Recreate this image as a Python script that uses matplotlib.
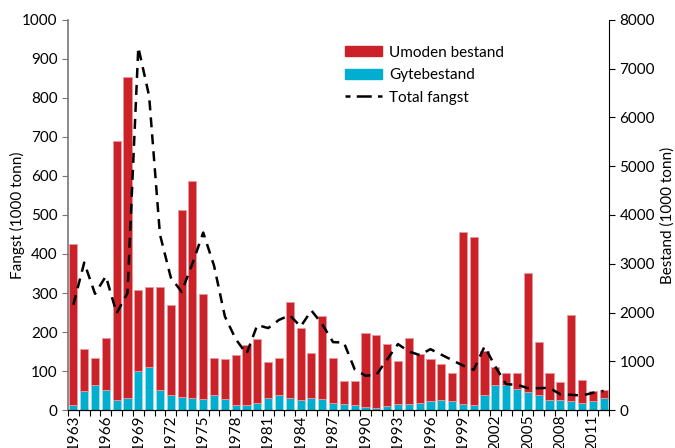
import numpy as np
import matplotlib
matplotlib.use("Agg")
import matplotlib.pyplot as plt
from matplotlib.patches import Patch
from matplotlib.lines import Line2D

plt.rcParams['font.family'] = ['Lato', 'DejaVu Sans']

years = list(range(1963, 2013))

# Bestand (1000 tonn), right axis
gytebestand = [110, 400, 510, 420, 200, 250, 800, 890, 420, 300,
               270, 250, 220, 300, 220, 100, 100, 150, 250, 300,
               250, 200, 250, 220, 150, 130, 100, 60, 40, 80,
               130, 130, 150, 180, 200, 180, 130, 100, 300, 510,
               510, 440, 370, 300, 200, 200, 180, 150, 180, 250]
umoden_bestand = [3300, 860, 560, 1060, 5320, 6590, 1660, 1640, 2110, 1850,
                  3830, 4450, 2150, 770, 830, 1020, 1230, 1300, 730, 770,
                  1970, 1490, 920, 1700, 920, 470, 500, 1510, 1500, 1270,
                  870, 1350, 990, 870, 750, 580, 3530, 3450, 910, 370,
                  250, 320, 2440, 1100, 560, 380, 1760, 470, 200, 170]

# Fangst (1000 tonn), left axis
total_fangst = [270, 378, 298, 343, 248, 300, 930, 805, 450, 340,
                303, 375, 455, 370, 240, 182, 144, 218, 210, 231,
                243, 214, 255, 220, 174, 173, 104, 88, 90, 130,
                169, 150, 141, 156, 142, 128, 114, 103, 163, 111,
                66, 65, 56, 56, 57, 40, 39, 37, 44, 49]

red = '#CB2229'
cyan = '#00AECF'

fig = plt.figure(figsize=(6.75, 4.48), dpi=100)
ax1 = fig.add_axes([0.1007, 0.0848, 0.8015, 0.8706])
ax2 = ax1.twinx()

x = np.arange(len(years))
ax2.bar(x, gytebestand, width=0.75, color=cyan, edgecolor='#9fdcea', linewidth=0.6)
ax2.bar(x, umoden_bestand, width=0.75, bottom=gytebestand, color=red,
        edgecolor='#e99a9e', linewidth=0.6)
ax1.plot(x, total_fangst, color='black', lw=1.8, linestyle=(0, (4, 2.8)))

ax1.set_zorder(ax2.get_zorder() + 1)
ax1.patch.set_visible(False)

ax1.set_xlim(-0.5, len(years) - 0.5)
ax1.set_ylim(0, 1000)
ax2.set_ylim(0, 8000)
ax1.set_yticks(range(0, 1001, 100))
ax2.set_yticks(range(0, 8001, 1000))

ax1.set_xticks(x[::3])
ax1.set_xticklabels([str(y) for y in years[::3]], rotation=90, fontsize=11)
ax1.set_xticks(np.arange(-0.5, len(years), 1), minor=True)
ax1.tick_params(axis='x', which='major', length=0, pad=3)
ax1.tick_params(axis='x', which='minor', length=4, width=0.8, direction='out')
ax1.tick_params(axis='y', labelsize=11, length=4, width=0.8, color='#777777')
ax2.tick_params(axis='y', labelsize=11, length=4, width=0.8)

ax1.spines['top'].set_visible(False)
ax2.spines['top'].set_visible(False)
ax1.spines['left'].set_color('#777777')
ax2.spines['left'].set_visible(False)
ax1.spines['right'].set_visible(False)
ax1.spines['left'].set_linewidth(1.2)

ax1.set_ylabel('Fangst (1000 tonn)', fontsize=11, labelpad=-2)
ax2.set_ylabel('Bestand (1000 tonn)', fontsize=11, labelpad=4)

handles = [Patch(color=red), Patch(color=cyan),
           Line2D([], [], color='black', lw=1.8, linestyle=(0, (2, 2.5, 6, 2.5)))]
fig.legend(handles, ['Umoden bestand', 'Gytebestand', 'Total fangst'],
           loc='upper left', bbox_to_anchor=(0.5, 0.915), frameon=False,
           fontsize=11, handlelength=2.4, handleheight=0.6, labelspacing=0.55,
           handletextpad=0.5, borderpad=0)

fig.savefig('out.png', dpi=100)
